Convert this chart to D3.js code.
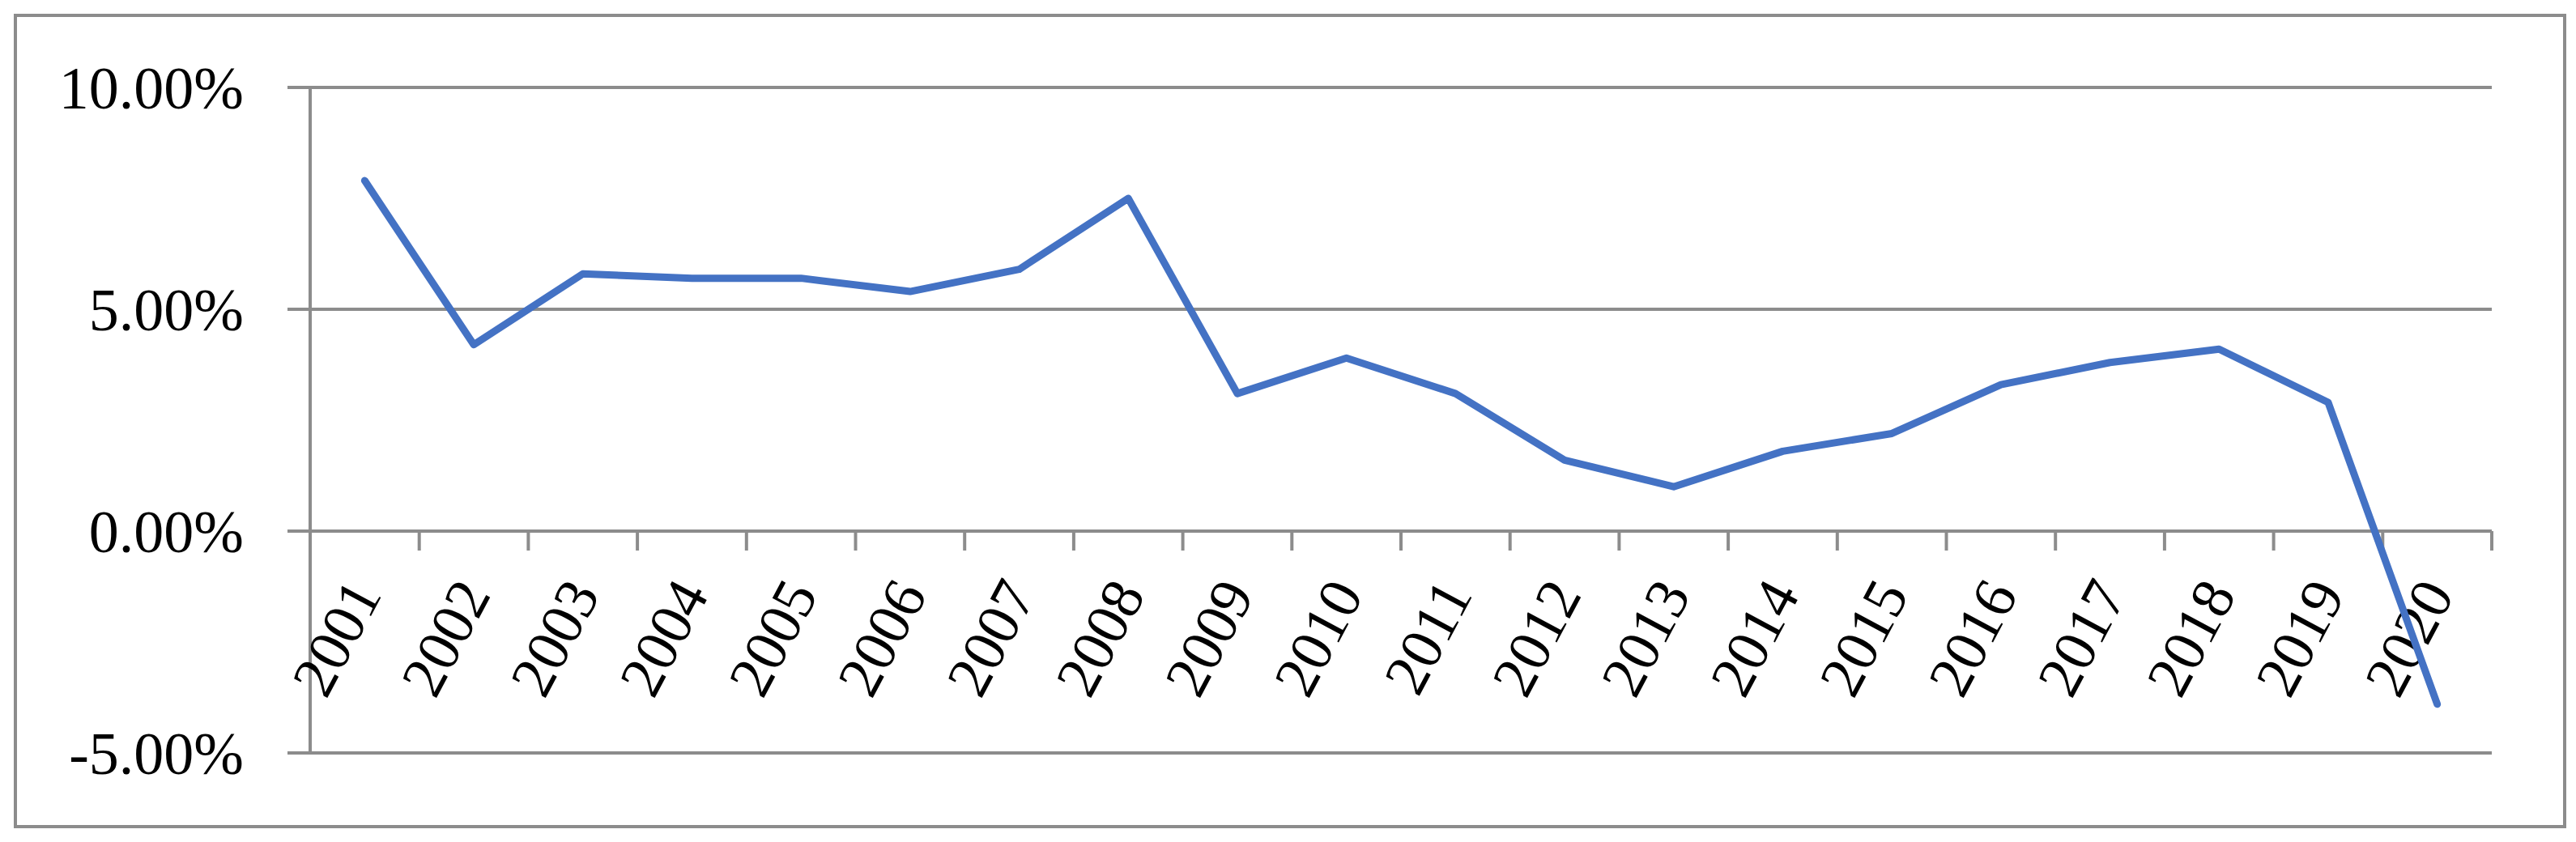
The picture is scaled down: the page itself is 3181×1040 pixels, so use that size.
<!DOCTYPE html>
<html><head><meta charset="utf-8">
<script src="https://cdn.jsdelivr.net/npm/d3@7"></script>
<style>body{margin:0;background:#fff}</style>
</head><body>
<svg id="c" width="3181" height="1040"></svg>
<script>
const years = ["2001","2002","2003","2004","2005","2006","2007","2008","2009","2010","2011","2012","2013","2014","2015","2016","2017","2018","2019","2020"];
const values = [7.9,4.2,5.8,5.7,5.7,5.4,5.9,7.5,3.1,3.9,3.1,1.6,1.0,1.8,2.2,3.3,3.8,4.1,2.9,-3.9];
const yTicks = [-5,0,5,10];

const svg = d3.select("#c");
svg.append("rect").attr("x",19).attr("y",19).attr("width",3148).attr("height",1002)
  .attr("fill","none").attr("stroke","#8c8c8c").attr("stroke-width",4);

const L=383,R=3077;
const x = d3.scaleBand().domain(years).range([L,R]);
const y = d3.scaleLinear().domain([-5,10]).range([930,108]);
const font = "'Liberation Serif','Times New Roman',serif";

// gridlines
svg.append("g").selectAll("line").data(yTicks).join("line")
  .attr("x1",L-28).attr("x2",R).attr("y1",d=>y(d)).attr("y2",d=>y(d))
  .attr("stroke","#8c8c8c").attr("stroke-width",4);
// y axis line
svg.append("line").attr("x1",L).attr("x2",L).attr("y1",y(10)).attr("y2",y(-5))
  .attr("stroke","#8c8c8c").attr("stroke-width",4);
// y labels
svg.append("g").selectAll("text").data(yTicks).join("text")
  .attr("x",301).attr("y",d=>y(d)+26).attr("text-anchor","end")
  .attr("font-family",font).attr("font-size",74).attr("fill","#000")
  .text(d=>d.toFixed(2)+"%");
// x ticks at band boundaries
const bounds = years.map(d=>x(d)).concat([R]);
svg.append("g").selectAll("line").data(bounds).join("line")
  .attr("x1",d=>d).attr("x2",d=>d).attr("y1",y(0)).attr("y2",y(0)+24)
  .attr("stroke","#8c8c8c").attr("stroke-width",4);
// x labels
svg.append("g").selectAll("text").data(years).join("text")
  .attr("transform",d=>`translate(${x(d)+x.bandwidth()/2+22},${y(0)+78}) rotate(-62)`)
  .attr("text-anchor","end").attr("font-family",font).attr("font-size",74).attr("fill","#000")
  .text(d=>d);
// line
const line = d3.line().x((d,i)=>x(years[i])+x.bandwidth()/2).y(d=>y(d));
svg.append("path").datum(values).attr("d",line).attr("fill","none")
  .attr("stroke","#4472c4").attr("stroke-width",9).attr("stroke-linecap","round").attr("stroke-linejoin","round");
</script>
</body></html>
